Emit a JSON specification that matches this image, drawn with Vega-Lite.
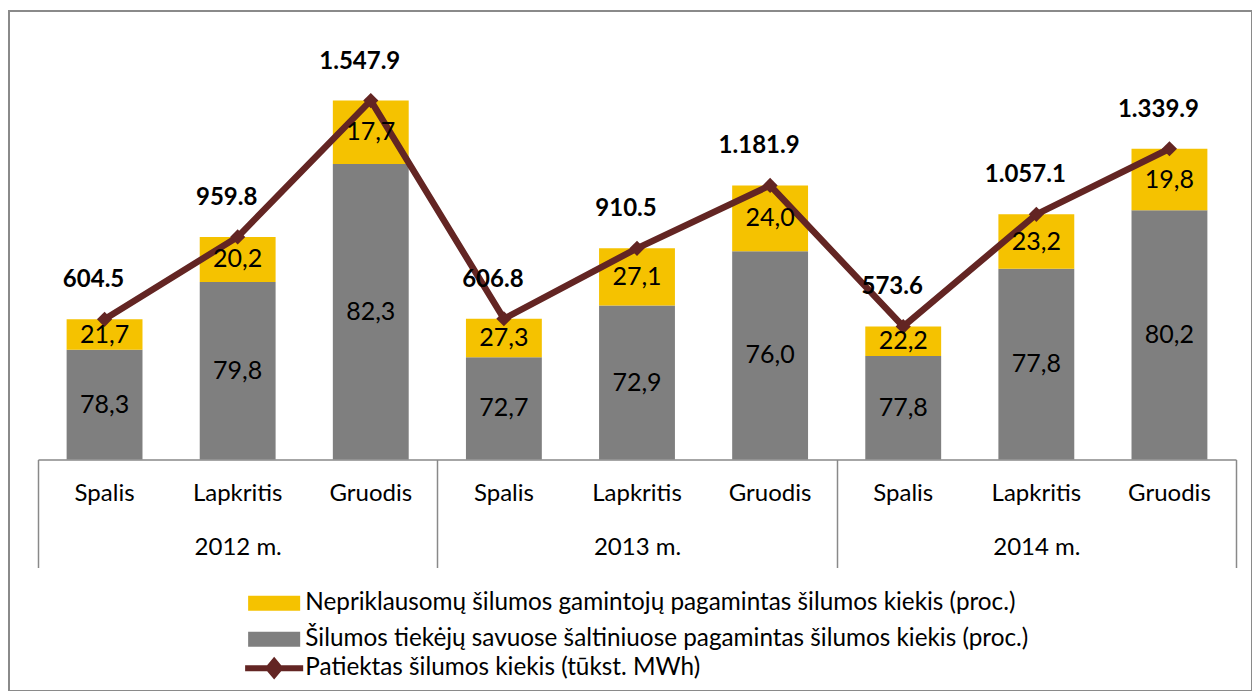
{
  "$schema": "https://vega.github.io/schema/vega-lite/v6.json",
  "width": 1243,
  "height": 680,
  "autosize": {"type": "none"},
  "padding": {"left": 9, "top": 11, "right": 0, "bottom": 0},
  "background": "white",
  "config": {
    "view": {"stroke": "#8a8a8a", "strokeWidth": 2},
    "font": "Lato",
    "axis": {"labelFont": "Lato", "labelColor": "#000000", "grid": false, "title": null},
    "legend": {"labelFont": "Lato", "labelColor": "#000000"}
  },
  "datasets": {
    "segments": [
      {"key": "2012 m.|Spalis", "series": "Šilumos tiekėjų savuose šaltiniuose pagamintas šilumos kiekis (proc.)", "value": 473.3, "pct": "78,3"},
      {"key": "2012 m.|Spalis", "series": "Nepriklausomų šilumos gamintojų pagamintas šilumos kiekis (proc.)", "value": 131.2, "pct": "21,7"},
      {"key": "2012 m.|Lapkritis", "series": "Šilumos tiekėjų savuose šaltiniuose pagamintas šilumos kiekis (proc.)", "value": 765.9, "pct": "79,8"},
      {"key": "2012 m.|Lapkritis", "series": "Nepriklausomų šilumos gamintojų pagamintas šilumos kiekis (proc.)", "value": 193.9, "pct": "20,2"},
      {"key": "2012 m.|Gruodis", "series": "Šilumos tiekėjų savuose šaltiniuose pagamintas šilumos kiekis (proc.)", "value": 1273.9, "pct": "82,3"},
      {"key": "2012 m.|Gruodis", "series": "Nepriklausomų šilumos gamintojų pagamintas šilumos kiekis (proc.)", "value": 274.0, "pct": "17,7"},
      {"key": "2013 m.|Spalis", "series": "Šilumos tiekėjų savuose šaltiniuose pagamintas šilumos kiekis (proc.)", "value": 441.1, "pct": "72,7"},
      {"key": "2013 m.|Spalis", "series": "Nepriklausomų šilumos gamintojų pagamintas šilumos kiekis (proc.)", "value": 165.7, "pct": "27,3"},
      {"key": "2013 m.|Lapkritis", "series": "Šilumos tiekėjų savuose šaltiniuose pagamintas šilumos kiekis (proc.)", "value": 663.8, "pct": "72,9"},
      {"key": "2013 m.|Lapkritis", "series": "Nepriklausomų šilumos gamintojų pagamintas šilumos kiekis (proc.)", "value": 246.7, "pct": "27,1"},
      {"key": "2013 m.|Gruodis", "series": "Šilumos tiekėjų savuose šaltiniuose pagamintas šilumos kiekis (proc.)", "value": 898.2, "pct": "76,0"},
      {"key": "2013 m.|Gruodis", "series": "Nepriklausomų šilumos gamintojų pagamintas šilumos kiekis (proc.)", "value": 283.7, "pct": "24,0"},
      {"key": "2014 m.|Spalis", "series": "Šilumos tiekėjų savuose šaltiniuose pagamintas šilumos kiekis (proc.)", "value": 446.3, "pct": "77,8"},
      {"key": "2014 m.|Spalis", "series": "Nepriklausomų šilumos gamintojų pagamintas šilumos kiekis (proc.)", "value": 127.3, "pct": "22,2"},
      {"key": "2014 m.|Lapkritis", "series": "Šilumos tiekėjų savuose šaltiniuose pagamintas šilumos kiekis (proc.)", "value": 822.4, "pct": "77,8"},
      {"key": "2014 m.|Lapkritis", "series": "Nepriklausomų šilumos gamintojų pagamintas šilumos kiekis (proc.)", "value": 234.7, "pct": "23,2"},
      {"key": "2014 m.|Gruodis", "series": "Šilumos tiekėjų savuose šaltiniuose pagamintas šilumos kiekis (proc.)", "value": 1074.6, "pct": "80,2"},
      {"key": "2014 m.|Gruodis", "series": "Nepriklausomų šilumos gamintojų pagamintas šilumos kiekis (proc.)", "value": 265.3, "pct": "19,8"}
    ],
    "totals": [
      {"key": "2012 m.|Spalis", "total": 604.5, "label": "604.5"},
      {"key": "2012 m.|Lapkritis", "total": 959.8, "label": "959.8"},
      {"key": "2012 m.|Gruodis", "total": 1547.9, "label": "1.547.9"},
      {"key": "2013 m.|Spalis", "total": 606.8, "label": "606.8"},
      {"key": "2013 m.|Lapkritis", "total": 910.5, "label": "910.5"},
      {"key": "2013 m.|Gruodis", "total": 1181.9, "label": "1.181.9"},
      {"key": "2014 m.|Spalis", "total": 573.6, "label": "573.6"},
      {"key": "2014 m.|Lapkritis", "total": 1057.1, "label": "1.057.1"},
      {"key": "2014 m.|Gruodis", "total": 1339.9, "label": "1.339.9"}
    ],
    "years": [
      {"year": "2012 m."},
      {"year": "2013 m."},
      {"year": "2014 m."}
    ]
  },
  "layer": [
    {
      "layer": [
        {
          "data": {"name": "segments"},
          "mark": {"type": "bar"},
          "encoding": {
            "x": {
              "field": "key", "type": "nominal",
              "scale": {
                "domain": ["2012 m.|Spalis", "2012 m.|Lapkritis", "2012 m.|Gruodis", "2013 m.|Spalis", "2013 m.|Lapkritis", "2013 m.|Gruodis", "2014 m.|Spalis", "2014 m.|Lapkritis", "2014 m.|Gruodis"],
                "range": [29, 1227], "paddingInner": 0.43, "paddingOuter": 0.215
              },
              "axis": {
                "orient": "bottom", "offset": -231.5, "title": null,
                "labelExpr": "split(datum.label, '|')[1]",
                "ticks": false, "domain": true, "domainColor": "#898989", "domainWidth": 1.5,
                "labelFontSize": 24, "labelPadding": 34, "labelBaseline": "middle", "labelAngle": 0
              }
            },
            "y": {
              "field": "value", "type": "quantitative", "stack": "zero",
              "scale": {"domain": [0, 1850], "range": [448.5, 19.5], "nice": false, "zero": true},
              "axis": null
            },
            "color": {
              "field": "series", "type": "nominal",
              "scale": {
                "domain": ["Nepriklausomų šilumos gamintojų pagamintas šilumos kiekis (proc.)", "Šilumos tiekėjų savuose šaltiniuose pagamintas šilumos kiekis (proc.)"],
                "range": ["#f5c200", "#7f7f7f"]
              },
              "legend": {
                "orient": "none", "legendX": 253, "legendY": 580, "title": null, "padding": 0,
                "symbolType": "M-3.47,-1H3.47V1H-3.47Z", "symbolSize": 225, "symbolStrokeWidth": 0,
                "labelFontSize": 24.3, "labelLimit": 1000, "labelOffset": 19, "rowPadding": 11
              }
            },
            "order": {"field": "series", "sort": "descending"}
          }
        },
        {
          "data": {"name": "totals"},
          "mark": {"type": "line", "strokeWidth": 6.5},
          "encoding": {
            "x": {"field": "key", "type": "nominal"},
            "y": {"field": "total", "type": "quantitative"},
            "stroke": {
              "datum": "Patiektas šilumos kiekis (tūkst. MWh)",
              "scale": {"range": ["#632523"]},
              "legend": {
                "orient": "none", "legendX": 253, "legendY": 645, "title": null, "padding": 0,
                "symbolType": "M-3.87,0H3.87M0,-0.9L0.75,0L0,0.9L-0.75,0Z", "symbolSize": 225,
                "symbolStrokeWidth": 6, "symbolFillColor": "#632523", "symbolStrokeColor": "#632523",
                "labelFontSize": 24.3, "labelLimit": 1000, "labelOffset": 19,
                "encode": {"symbols": {"update": {"fill": {"value": "#632523"}, "stroke": {"value": "#632523"}, "strokeWidth": {"value": 6}, "opacity": {"value": 1}}}}
              }
            }
          }
        },
        {
          "data": {"name": "totals"},
          "mark": {"type": "point", "shape": "diamond", "filled": true, "size": 230, "color": "#632523", "opacity": 1},
          "encoding": {
            "x": {"field": "key", "type": "nominal"},
            "y": {"field": "total", "type": "quantitative"}
          }
        },
        {
          "data": {"name": "segments"},
          "mark": {"type": "text", "fontSize": 25, "color": "#000000", "font": "Lato"},
          "encoding": {
            "x": {"field": "key", "type": "nominal"},
            "y": {"field": "value", "type": "quantitative", "stack": "zero", "bandPosition": 0.5},
            "detail": {"field": "series", "type": "nominal"},
            "order": {"field": "series", "sort": "descending"},
            "text": {"field": "pct", "type": "nominal"}
          }
        },
        {
          "data": {"name": "totals"},
          "mark": {"type": "text", "fontSize": 24, "fontWeight": "bold", "color": "#000000", "font": "Lato", "dx": -11, "dy": -39},
          "encoding": {
            "x": {"field": "key", "type": "nominal"},
            "y": {"field": "total", "type": "quantitative"},
            "text": {"field": "label", "type": "nominal"}
          }
        }
      ]
    },
    {
      "data": {"name": "years"},
      "mark": {"type": "text", "opacity": 0},
      "encoding": {
        "x": {
          "field": "year", "type": "nominal",
          "scale": {"range": [29, 1227], "paddingInner": 0, "paddingOuter": 0},
          "axis": {
            "orient": "bottom", "offset": -231.5, "title": null,
            "domain": false, "ticks": true, "tickBand": "extent", "tickSize": 108,
            "tickColor": "#898989", "tickWidth": 1.5,
            "labelFontSize": 24, "labelPadding": -20.5, "labelBaseline": "middle", "labelAngle": 0
          }
        },
        "text": {"value": ""}
      }
    }
  ],
  "resolve": {"scale": {"x": "independent"}, "axis": {"x": "independent"}}
}
